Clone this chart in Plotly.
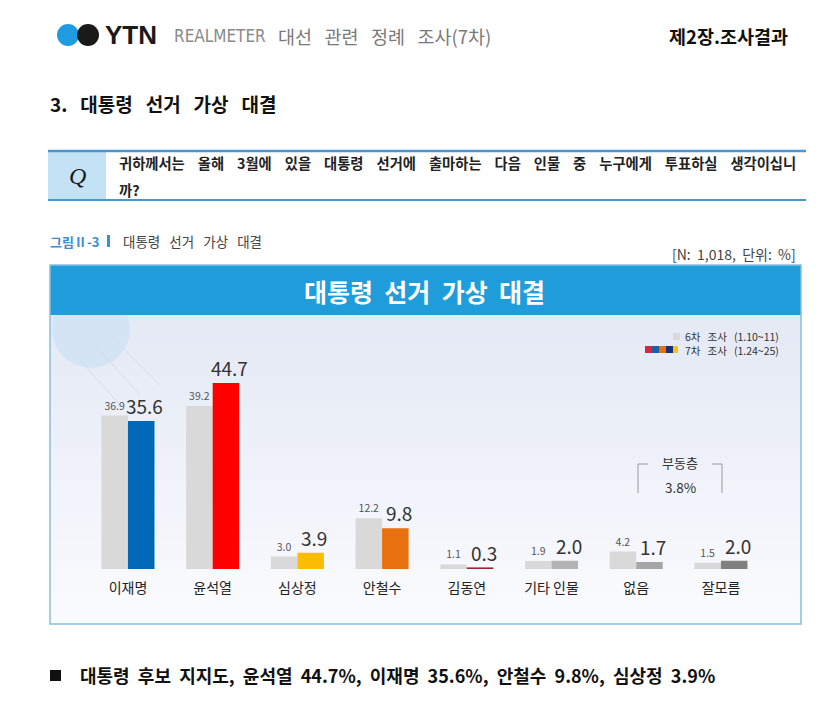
import plotly.graph_objects as go

# ---------------- data ----------------
categories = ["이재명", "윤석열", "심상정", "안철수", "김동연", "기타 인물", "없음", "잘모름"]
wave6 = [36.9, 39.2, 3.0, 12.2, 1.1, 1.9, 4.2, 1.5]
wave7 = [35.6, 44.7, 3.9, 9.8, 0.3, 2.0, 1.7, 2.0]
wave6_name = "6차 조사 (1.10~11)"
wave7_name = "7차 조사 (1.24~25)"
floating_label = "부동층"
floating_value = "3.8%"

wave7_colors = ["#0068b7", "#ff0000", "#fbbc05", "#e8700f", "#9b2335", "#b3b3b3", "#a6a6a6", "#808080"]
wave6_color = "#d9d9d9"

W, H = 828, 712
FONT = "Noto Sans CJK KR"
NB = "\u00a0"


def X(px):
    return px / W


def Y(py):
    return 1 - py / H


def spaced(s, n):
    return (NB * n).join(s.split(" "))


fig = go.Figure()

fig.add_trace(go.Bar(
    x=categories, y=wave6, name=wave6_name,
    marker=dict(color=wave6_color, line=dict(width=0)),
    text=[f"{v:.1f}" for v in wave6], textposition="outside",
    textfont=dict(size=10.5, color="#555555", family=FONT),
    cliponaxis=False, constraintext="none", showlegend=False,
))
fig.add_trace(go.Bar(
    x=categories, y=wave7, name=wave7_name,
    marker=dict(color=wave7_colors, line=dict(width=0)),
    showlegend=False,
))

shapes = []
annotations = []

# value labels of the 7th wave (anchored to data coordinates)
for cat, v in zip(categories, wave7):
    annotations.append(dict(text=f"{v:.1f}", x=cat, y=v, xref="x", yref="y",
                            xanchor="center", yanchor="bottom", xshift=17, yshift=1,
                            showarrow=False, borderpad=0,
                            font=dict(size=19, color="#333333", family=FONT)))


def ann(text, x, y, xanchor="left", size=12, color="#333333", family=FONT):
    annotations.append(dict(text=text, x=X(x), y=Y(y), xref="paper", yref="paper",
                            xanchor=xanchor, yanchor="middle", showarrow=False,
                            font=dict(size=size, color=color, family=family)))


def rect(x0, y0, x1, y1, fill, layer="above", line=None):
    shapes.append(dict(type="rect", xref="paper", yref="paper", layer=layer,
                       x0=X(x0), x1=X(x1), y0=Y(y1), y1=Y(y0),
                       fillcolor=fill, line=line if line else dict(width=0)))


def seg(x0, y0, x1, y1, color, width=1, layer="above"):
    shapes.append(dict(type="line", xref="paper", yref="paper", layer=layer,
                       x0=X(x0), x1=X(x1), y0=Y(y0), y1=Y(y1),
                       line=dict(color=color, width=width)))


# ---------- header ----------
shapes.append(dict(type="circle", xref="paper", yref="paper", layer="above",
                   x0=X(57), x1=X(79), y0=Y(46), y1=Y(24),
                   fillcolor="#1f9be2", line=dict(width=0)))
shapes.append(dict(type="circle", xref="paper", yref="paper", layer="above",
                   x0=X(77), x1=X(99), y0=Y(46), y1=Y(24),
                   fillcolor="#1a1a1a", line=dict(width=0)))
ann("<b>YTN</b>", 103, 35, size=26, color="#1a1a1a", family="Liberation Sans")
ann("REALMETER", 172, 36, size=17, color="#8a8a8a", family="DejaVu Sans Condensed")
ann(spaced("대선 관련 정례 조사(7차)", 3), 276, 36, size=18.5, color="#7a7a7a")
ann("<b>제2장.조사결과</b>", 790, 36, xanchor="right", size=18.5, color="#111111")

# ---------- section title ----------
ann("<b>" + spaced("3. 대통령 선거 가상 대결", 3) + "</b>", 48, 103, size=19, color="#111111")

# ---------- question box ----------
rect(48, 151, 106, 200, "#c4e2f6", layer="below")
seg(48, 151, 806, 151, "#4a96cf", 2.5)
seg(48, 200, 806, 200, "#4a96cf", 2)
ann("<i>Q</i>", 77, 176, xanchor="center", size=24, color="#1a1a1a", family="Liberation Serif")
ann("<b>" + spaced("귀하께서는 올해 3월에 있을 대통령 선거에 출마하는 다음 인물 중 누구에게 투표하실 생각이십니", 4) + "</b>",
    117, 163, size=14.3, color="#222222")
ann("<b>까?</b>", 117, 189, size=14.3, color="#222222")

# ---------- figure caption ----------
ann("<b>그림Ⅱ-3</b>", 48, 241, size=13, color="#3a8fd0")
rect(107, 235, 110, 247, "#3a8fd0")
ann(spaced("대통령 선거 가상 대결", 3), 121, 241, size=13.5, color="#444444")
ann(spaced("[N: 1,018, 단위: %]", 2), 798, 254, xanchor="right", size=14, color="#444444")

# ---------- chart box ----------
top_bg, bot_bg = 315, 624
nb = 30
c0 = (228, 233, 245)
c1 = (250, 251, 254)
for i in range(nb):
    t = i / (nb - 1)
    col = tuple(round(c0[k] + (c1[k] - c0[k]) * t) for k in range(3))
    ya = top_bg + (bot_bg - top_bg) * i / nb
    yb = top_bg + (bot_bg - top_bg) * (i + 1) / nb
    rect(50, ya, 801, yb + 0.5, "rgb(%d,%d,%d)" % col, layer="below")
# decorative circle and lines
shapes.append(dict(type="circle", xref="paper", yref="paper", layer="below",
                   x0=X(52), x1=X(130), y0=Y(368), y1=Y(290),
                   fillcolor="rgba(205,225,243,0.7)", line=dict(width=0)))
for (a, b, c, d) in [(95, 345, 140, 395), (110, 335, 160, 385), (80, 360, 120, 405)]:
    seg(a, b, c, d, "rgba(200,216,236,0.7)", 1, layer="below")
# header band (covers circle top)
rect(50, 265, 801, 315, "#1f9ddb", layer="below")
rect(50, 265, 801, 624, "rgba(0,0,0,0)", layer="below", line=dict(color="#86bde3", width=1.5))
ann("<b>" + spaced("대통령 선거 가상 대결", 2) + "</b>", 425, 291, xanchor="center", size=25, color="#ffffff")

# ---------- legend (manual) ----------
rect(673, 333, 680, 340, wave6_color)
stripe = ["#d7263d", "#1f5fa8", "#e8700f", "#1a2f7a", "#f5c518"]
sx = 645
for i, col in enumerate(stripe):
    w = 7 if i < 4 else 5
    rect(sx, 346, sx + w, 353, col)
    sx += w
ann(spaced(wave6_name, 3), 683, 336, size=10.5, color="#333333")
ann(spaced(wave7_name, 3), 683, 350.5, size=10.5, color="#333333")

# ---------- floating voters bracket ----------
bc = "#9a9a9a"
for (a, b, c, d) in [(638, 464, 638, 493), (638, 464, 648, 464), (722, 464, 722, 493), (712, 464, 722, 464)]:
    seg(a, b, c, d, bc, 1)
ann(floating_label, 680, 462, xanchor="center", size=13, color="#333333")
ann(floating_value, 680, 487, xanchor="center", size=13.5, color="#333333")

# ---------- bottom summary ----------
rect(50, 670, 61, 681, "#111111")
ann("<b>" + spaced("대통령 후보 지지도, 윤석열 44.7%, 이재명 35.6%, 안철수 9.8%, 심상정 3.9%", 2) + "</b>",
    78, 675, size=18, color="#111111")

base_px = 569
px_per_unit = 4.16
ymax = 60
fig.update_layout(
    width=W, height=H, autosize=False,
    margin=dict(l=0, r=0, t=0, b=0),
    paper_bgcolor="#ffffff", plot_bgcolor="rgba(0,0,0,0)",
    barmode="group", bargap=0.374, bargroupgap=0,
    font=dict(family=FONT),
    showlegend=False,
    shapes=shapes, annotations=annotations,
    xaxis=dict(domain=[X(85.6), X(763.3)], showgrid=False, zeroline=False, showline=False,
               ticks="", ticklabelstandoff=9,
               tickfont=dict(size=14, color="#222222", family=FONT), fixedrange=True),
    yaxis=dict(domain=[Y(base_px), Y(base_px - ymax * px_per_unit)], range=[0, ymax],
               visible=False, fixedrange=True),
)

fig.write_html("out.html")
